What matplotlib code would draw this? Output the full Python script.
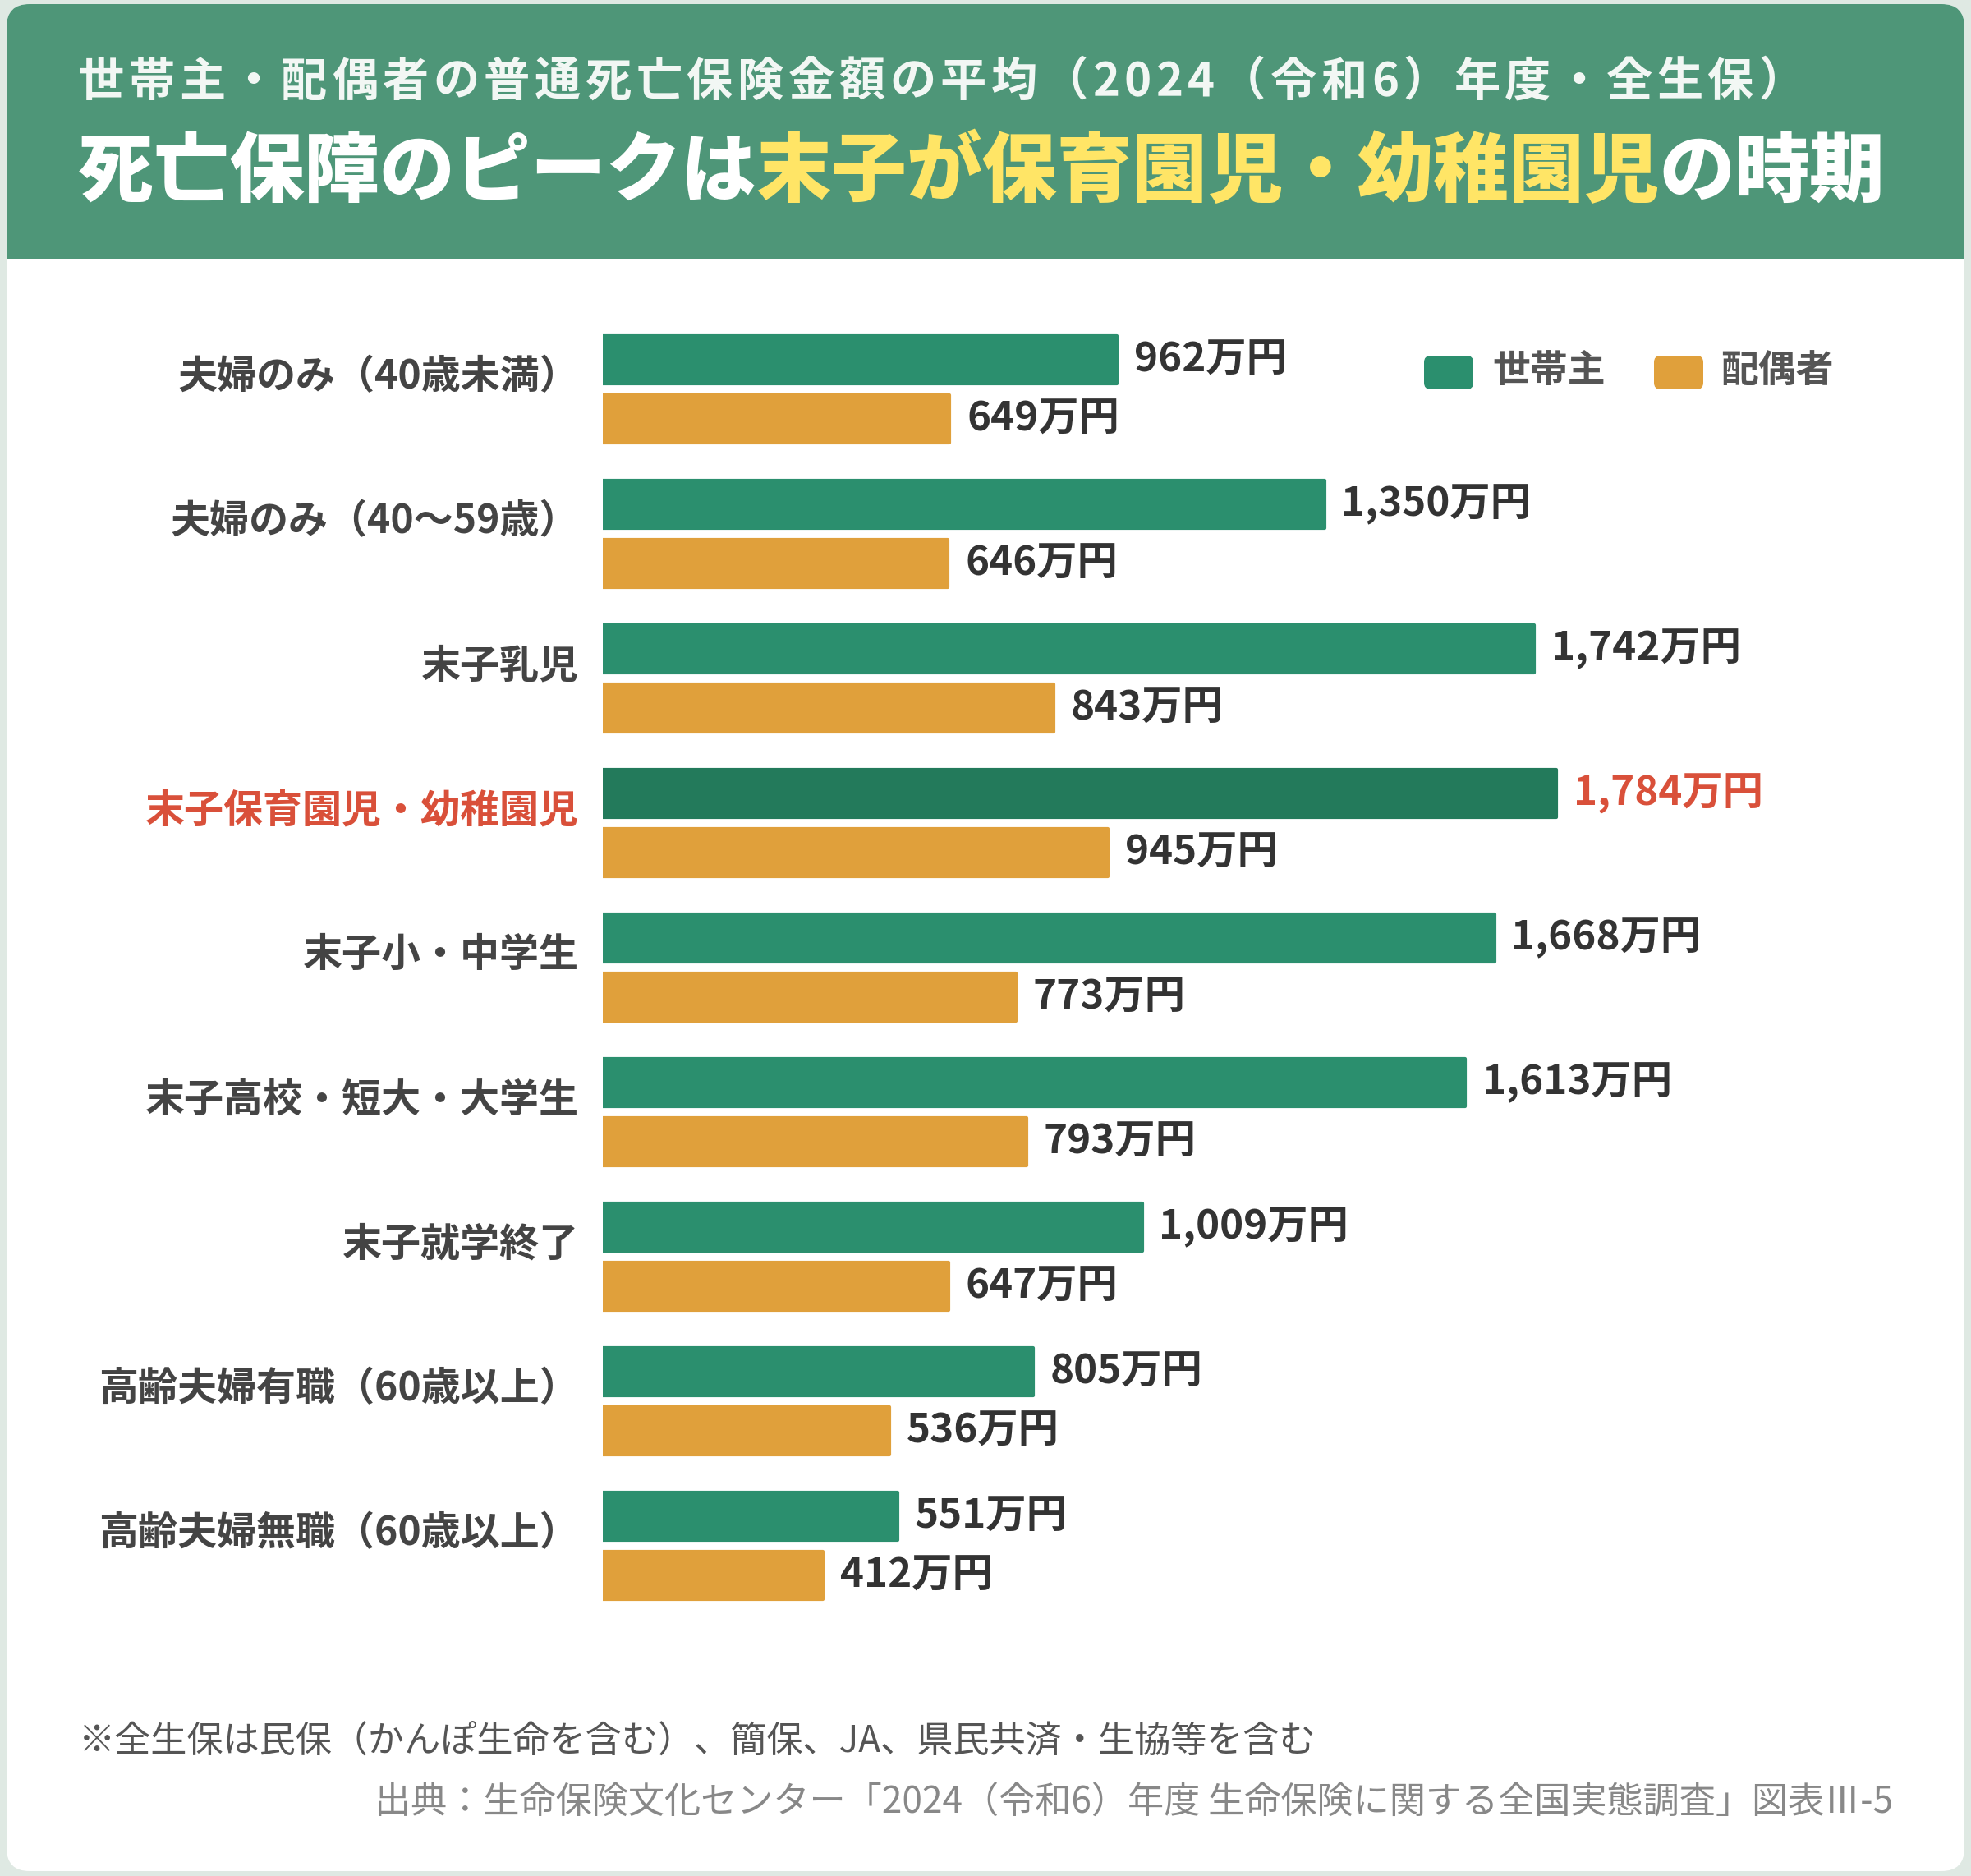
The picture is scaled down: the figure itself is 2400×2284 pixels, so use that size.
import matplotlib
matplotlib.use('Agg')
import matplotlib.pyplot as plt
from matplotlib.patches import FancyBboxPatch, Rectangle
from matplotlib.font_manager import FontProperties, findfont
from matplotlib.ft2font import FT2Font

plt.rcParams['font.family'] = ['Noto Sans CJK JP', 'DejaVu Sans']

# data
categories = ['夫婦のみ（40歳未満）', '夫婦のみ（40～59歳）', '末子乳児', '末子保育園児・幼稚園児',
              '末子小・中学生', '末子高校・短大・大学生', '末子就学終了',
              '高齢夫婦有職（60歳以上）', '高齢夫婦無職（60歳以上）']
head = [962, 1350, 1742, 1784, 1668, 1613, 1009, 805, 551]
spouse = [649, 646, 843, 945, 773, 793, 647, 536, 412]
highlight = 3

subtitle = '世帯主・配偶者の普通死亡保険金額の平均（2024（令和6）年度・全生保）'
title_parts = ['死亡保障のピークは', '末子が保育園児・幼稚園児', 'の時期']
note = '※全生保は民保（かんぽ生命を含む）、簡保、JA、県民共済・生協等を含む'
source = '出典：生命保険文化センター「2024（令和6）年度 生命保険に関する全国実態調査」図表Ⅲ-5'

GREEN = '#2b8f6e'
GREEN_DARK = '#237a5b'
ORANGE = '#e0a03b'
HEADER = '#4e9678'
YELLOW = '#ffe566'
RED = '#d9503a'

W, H = 2400, 2284
DPI = 100
fig = plt.figure(figsize=(24, 22.84), dpi=DPI, facecolor='#dfe9e3')

# background layer in pixel coords
bg = fig.add_axes([0, 0, 1, 1])
bg.set_xlim(0, W)
bg.set_ylim(H, 0)
bg.axis('off')


def spaced_text(x, y, runs, size, weight, spacing):
    # place glyph by glyph so letter spacing and colour runs line up
    prop = FontProperties(family='Noto Sans CJK JP', weight=weight)
    font = FT2Font(findfont(prop))
    font.set_size(size, DPI)
    for txt, color in runs:
        for ch in txt:
            g = font.load_char(ord(ch))
            adv = g.linearHoriAdvance / 65536
            if ch.strip():
                bg.text(x, y, ch, fontsize=size, weight=weight, color=color, va='center', ha='left')
            x += adv + spacing


bg.add_patch(FancyBboxPatch((8, 5), 2384, 2273, boxstyle='round,pad=0,rounding_size=28',
                            fc='white', ec='none'))
bg.add_patch(FancyBboxPatch((8, 5), 2384, 340, boxstyle='round,pad=0,rounding_size=28',
                            fc=HEADER, ec='none'))
bg.add_patch(Rectangle((8, 315), 2384, 40, fc='white', ec='none'))

spaced_text(95, 100, [(subtitle, '#f2f7f4')], 40.5, 'bold', 5.5)
spaced_text(95, 210, [(title_parts[0], 'white'), (title_parts[1], YELLOW), (title_parts[2], 'white')],
            66, 'black', 0)

# legend
bg.add_patch(FancyBboxPatch((1734, 433), 60, 41, boxstyle='round,pad=0,rounding_size=8', fc=GREEN, ec='none'))
bg.text(1817, 452, '世帯主', fontsize=33, weight='bold', color='#555555', va='center')
bg.add_patch(FancyBboxPatch((2014, 433), 60, 41, boxstyle='round,pad=0,rounding_size=8', fc=ORANGE, ec='none'))
bg.text(2095, 452, '配偶者', fontsize=33, weight='bold', color='#555555', va='center')

bg.text(96, 2120, note, fontsize=31.8, color='#555555', va='center')
bg.text(2305, 2195, source, fontsize=31.8, color='#888888', va='center', ha='right')

# bar chart
ax = fig.add_axes([734 / W, (H - 2000) / H, 2500 * 0.6508 / W, 1650 / H])
ax.patch.set_alpha(0)
ax.set_xlim(0, 2500)
ax.set_ylim(8.875, -0.5)
for s in ax.spines.values():
    s.set_visible(False)
ax.set_xticks([])

ypos = list(range(len(categories)))
h_colors = [GREEN_DARK if i == highlight else GREEN for i in ypos]
bh = 0.335
b1 = ax.barh(ypos, head, height=bh, color=h_colors, edgecolor=h_colors, linewidth=3)
b2 = ax.barh([y + 0.409 for y in ypos], spouse, height=bh, color=ORANGE, edgecolor=ORANGE, linewidth=3)
for p in list(b1) + list(b2):
    p.set_joinstyle('round')

for i in ypos:
    c = RED if i == highlight else '#333333'
    ax.annotate(f'{head[i]:,}万円', xy=(head[i], i), xytext=(15, 0), textcoords='offset points',
                va='center', ha='left', fontsize=35.5, weight='bold', color=c)
    ax.annotate(f'{spouse[i]:,}万円', xy=(spouse[i], i + 0.409), xytext=(15, 0), textcoords='offset points',
                va='center', ha='left', fontsize=35.5, weight='bold', color='#333333')

ax.set_yticks([y + 0.09 for y in ypos])
ax.set_yticklabels(categories, fontsize=34.6, weight='bold')
ax.tick_params(axis='y', length=0, pad=21)
for i, lab in enumerate(ax.get_yticklabels()):
    lab.set_color(RED if i == highlight else '#444444')

fig.savefig('out.png', dpi=DPI, facecolor=fig.get_facecolor())
